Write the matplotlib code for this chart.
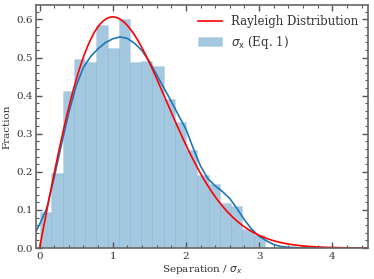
import numpy as np
import matplotlib
matplotlib.use('Agg')
import matplotlib.pyplot as plt
from matplotlib.ticker import MultipleLocator

# histogram (density)
bin_edges = np.linspace(0.007, 3.08, 21)
bar_heights = [0.095, 0.198, 0.411, 0.497, 0.488, 0.585, 0.525, 0.601, 0.488, 0.491,
               0.477, 0.390, 0.331, 0.257, 0.192, 0.167, 0.119, 0.110, 0.049, 0.033]

# kde curve of the histogram
kde_x = [-0.05, 0.0, 0.1, 0.2, 0.3, 0.4, 0.5, 0.6, 0.7, 0.8, 0.9, 1.0, 1.1, 1.2, 1.3,
         1.4, 1.5, 1.6, 1.7, 1.8, 1.9, 2.0, 2.1, 2.2, 2.3, 2.4, 2.5, 2.6, 2.7, 2.8,
         2.9, 3.0, 3.1, 3.2, 3.3, 3.4, 3.6, 3.8]
kde_y = [0.043, 0.062, 0.105, 0.185, 0.272, 0.355, 0.425, 0.474, 0.503, 0.523, 0.539,
         0.549, 0.554, 0.550, 0.537, 0.518, 0.490, 0.455, 0.420, 0.385, 0.348, 0.312,
         0.262, 0.215, 0.182, 0.163, 0.148, 0.130, 0.103, 0.074, 0.049, 0.031, 0.019,
         0.009, 0.004, 0.002, 0.0005, 0.0]

# Rayleigh reference distribution
rayleigh_sigma = 1.0
r = np.linspace(0, 4.5, 300)
rayleigh_pdf = r / rayleigh_sigma**2 * np.exp(-r**2 / (2 * rayleigh_sigma**2))

plt.rcParams['font.family'] = 'DejaVu Serif'
plt.rcParams['font.size'] = 7.5

fig = plt.figure(figsize=(3.74, 2.79), dpi=100)
ax = fig.add_axes([0.0963, 0.111, 0.888, 0.870])

widths = np.diff(bin_edges)
bars = ax.bar(bin_edges[:-1], bar_heights, width=widths, align='edge',
              color=(0.122, 0.467, 0.706, 0.4), edgecolor=(0.122, 0.467, 0.706, 0.12),
              linewidth=0.5)
ax.plot(kde_x, kde_y, color='#1f77b4', lw=1.2)
ray_line, = ax.plot(r, rayleigh_pdf, color='red', lw=1.2)

ax.set_xlim(-0.048, 4.49)
ax.set_ylim(0, 0.637)
ax.set_xlabel(r'Separation / $\sigma_x$', color='#333333', labelpad=2)
ax.set_ylabel('Fraction', color='#333333', labelpad=3)

ax.xaxis.set_major_locator(MultipleLocator(1))
ax.xaxis.set_minor_locator(MultipleLocator(0.2))
ax.yaxis.set_major_locator(MultipleLocator(0.1))
ax.yaxis.set_minor_locator(MultipleLocator(0.02))
ax.tick_params(which='both', direction='in', top=True, right=True,
               color='#555555', labelcolor='#333333', pad=2.5)
ax.tick_params(which='major', length=4, width=1)
ax.tick_params(which='minor', length=2, width=0.8)
for s in ax.spines.values():
    s.set_color('#666666')
    s.set_linewidth(1.2)

ax.legend([ray_line, bars], ['Rayleigh Distribution', r'$\sigma_{\mathrm{x}}$ (Eq. 1)'],
          loc='upper right', frameon=False, fontsize=8.5, handlelength=2.0,
          labelcolor='#333333', borderaxespad=0.4)

fig.savefig('out.png', dpi=100)
